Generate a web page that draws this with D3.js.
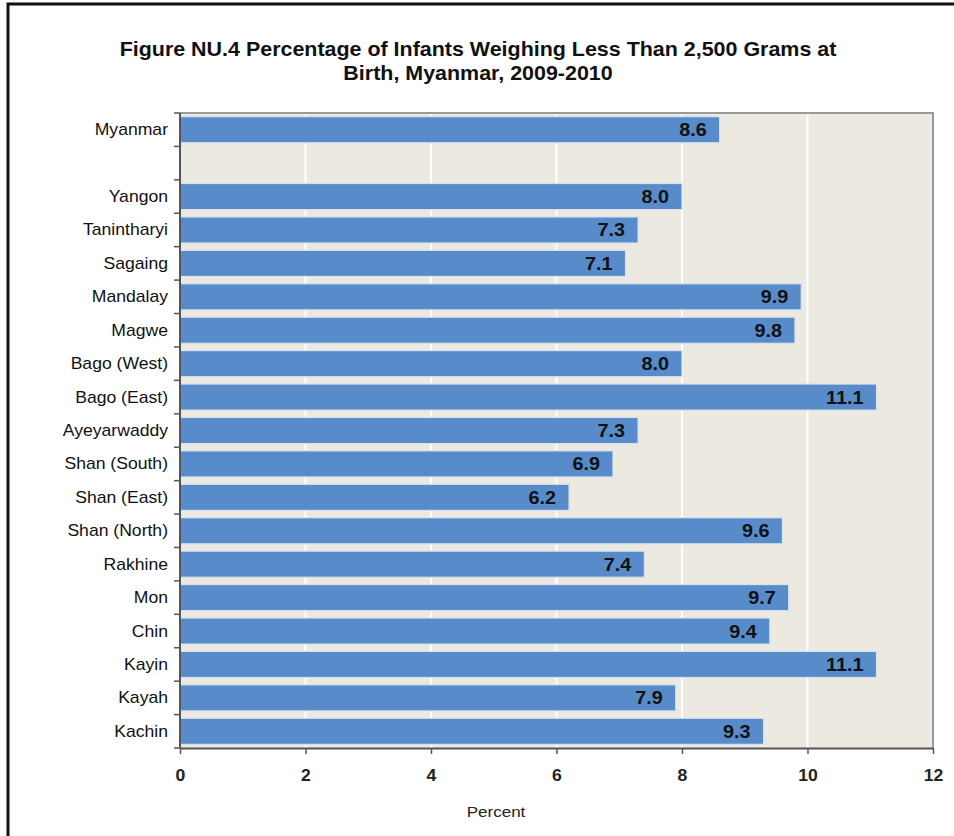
<!DOCTYPE html>
<html>
<head>
<meta charset="utf-8">
<script src="https://cdn.jsdelivr.net/npm/d3@7"></script>
<style>
  html, body { margin: 0; padding: 0; background: #ffffff; }
  svg { display: block; font-family: "Liberation Sans", Arial, Helvetica, sans-serif; }
</style>
</head>
<body>
<svg id="chart" width="954" height="836"></svg>
<script>
// Low birth weight by region; the empty category separates the national figure
const categories = ["Myanmar", " ", "Yangon", "Tanintharyi", "Sagaing", "Mandalay", "Magwe",
  "Bago (West)", "Bago (East)", "Ayeyarwaddy", "Shan (South)", "Shan (East)",
  "Shan (North)", "Rakhine", "Mon", "Chin", "Kayin", "Kayah", "Kachin"];
const values = [8.6, null, 8.0, 7.3, 7.1, 9.9, 9.8, 8.0, 11.1, 7.3, 6.9, 6.2,
  9.6, 7.4, 9.7, 9.4, 11.1, 7.9, 9.3];
const xTicks = [0, 2, 4, 6, 8, 10, 12];
const titleLines = ["Figure NU.4 Percentage of Infants Weighing Less Than 2,500 Grams at",
  "Birth, Myanmar, 2009-2010"];
const xTitle = "Percent";

const svg = d3.select("#chart");
const plot = { left: 180, right: 933, top: 113, bottom: 748 };
const sx = 1.1; // text is set slightly wide
const place = (px, py) => `translate(${px},${py}) scale(${sx},1)`;

const x = d3.scaleLinear().domain([0, 12]).range([plot.left, plot.right]);
const y = d3.scaleBand().domain(categories).range([plot.top, plot.bottom])
  .paddingInner(0.22).paddingOuter(0.11);

// outer frame (top and left edges)
svg.append("path")
  .attr("d", "M8,836 V4 H954")
  .attr("fill", "none").attr("stroke", "#111").attr("stroke-width", 3);

// title
svg.append("g").selectAll("text").data(titleLines).join("text")
  .attr("transform", (d, i) => place(478, 56 + i * 24))
  .attr("text-anchor", "middle")
  .attr("font-size", 19.5).attr("font-weight", "bold").attr("fill", "#111")
  .text(d => d);

// plot background
svg.append("rect")
  .attr("x", plot.left).attr("y", plot.top)
  .attr("width", plot.right - plot.left).attr("height", plot.bottom - plot.top)
  .attr("fill", "#ECE9E1");

// vertical gridlines
svg.append("g").selectAll("line").data(xTicks.filter(t => t > 0 && t < 12)).join("line")
  .attr("x1", d => x(d)).attr("x2", d => x(d))
  .attr("y1", plot.top).attr("y2", plot.bottom)
  .attr("stroke", "#ffffff").attr("stroke-width", 2);

// bars
const rows = categories.map((c, i) => ({ cat: c, v: values[i] })).filter(d => d.v !== null);
svg.append("g").selectAll("rect").data(rows).join("rect")
  .attr("x", x(0)).attr("y", d => y(d.cat))
  .attr("width", d => x(d.v) - x(0)).attr("height", y.bandwidth())
  .attr("fill", "#588BC9").attr("stroke", "#D6E1F0").attr("stroke-width", 1.2);

// value labels inside bar ends
svg.append("g").selectAll("text").data(rows).join("text")
  .attr("transform", d => place(x(d.v) - 13, y(d.cat) + y.bandwidth() / 2 + 6.5))
  .attr("text-anchor", "end")
  .attr("font-size", 18).attr("font-weight", "bold").attr("fill", "#111")
  .text(d => d3.format(".1f")(d.v));

// plot frame: top and right edges
svg.append("path")
  .attr("d", `M${plot.left},${plot.top} H${plot.right} V${plot.bottom}`)
  .attr("fill", "none").attr("stroke", "#9a9a9a").attr("stroke-width", 2);

// left axis with ticks at band boundaries
const boundaries = d3.range(categories.length + 1).map(i => plot.top + i * y.step());
const yAxis = svg.append("g");
yAxis.append("line")
  .attr("x1", plot.left).attr("x2", plot.left)
  .attr("y1", plot.top).attr("y2", plot.bottom)
  .attr("stroke", "#555").attr("stroke-width", 2);
yAxis.selectAll("line.tick").data(boundaries).join("line")
  .attr("class", "tick")
  .attr("x1", plot.left - 6).attr("x2", plot.left)
  .attr("y1", d => d).attr("y2", d => d)
  .attr("stroke", "#555").attr("stroke-width", 1.5);
yAxis.selectAll("text").data(categories.filter(c => c.trim() !== "")).join("text")
  .attr("transform", d => place(168, y(d) + y.bandwidth() / 2 + 5.5))
  .attr("text-anchor", "end")
  .attr("font-size", 16).attr("fill", "#111")
  .text(d => d);

// bottom axis
const xAxis = svg.append("g")
  .attr("transform", `translate(0,${plot.bottom})`)
  .call(d3.axisBottom(x).tickValues(xTicks).tickSize(6).tickPadding(16).tickSizeOuter(0));
xAxis.select(".domain").attr("stroke", "#555").attr("stroke-width", 2);
xAxis.selectAll(".tick line").attr("stroke", "#555").attr("stroke-width", 1.5);
xAxis.selectAll(".tick text")
  .attr("transform", `scale(${sx},1)`)
  .attr("font-size", 16).attr("font-weight", "bold").attr("fill", "#222")
  .attr("font-family", "'Liberation Sans', Arial, sans-serif");

svg.append("text")
  .attr("transform", place(496, 817))
  .attr("text-anchor", "middle")
  .attr("font-size", 15.5).attr("fill", "#222")
  .text(xTitle);
</script>
</body>
</html>
